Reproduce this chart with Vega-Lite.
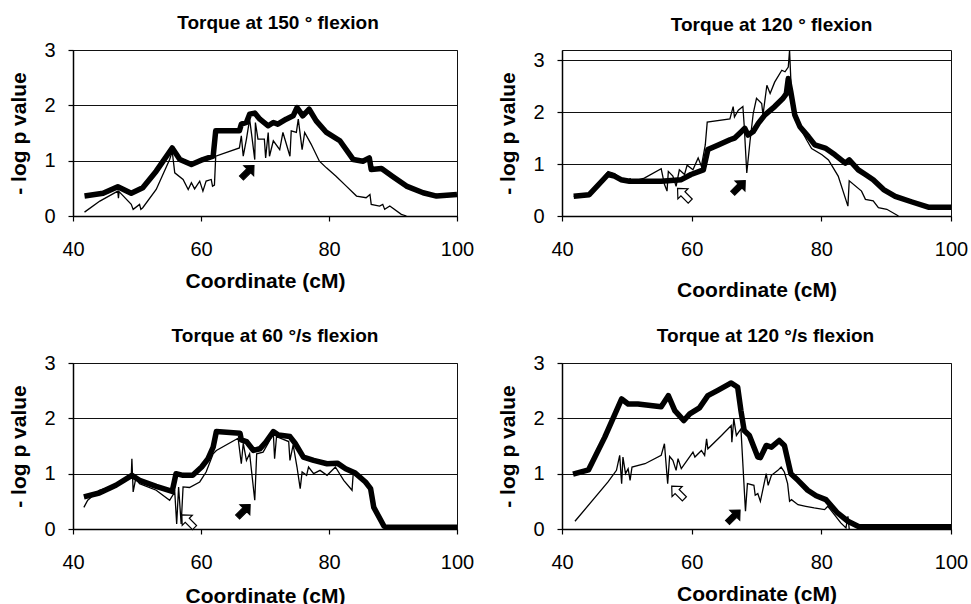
{
  "$schema": "https://vega.github.io/schema/vega-lite/v6.json",
  "background": "white",
  "padding": {"left": 8, "top": 13, "right": 5, "bottom": 5},
  "config": {
    "font": "Liberation Sans",
    "view": {"stroke": "#111", "strokeWidth": 1},
    "title": {"font": "Liberation Sans", "fontSize": 19, "fontWeight": "bold", "color": "black", "baseline": "bottom", "offset": 7},
    "axis": {"labelFont": "Liberation Sans", "labelFontSize": 20, "labelColor": "black", "titleFont": "Liberation Sans", "titleFontSize": 21, "titleFontWeight": "bold", "titleColor": "black", "domainColor": "black", "domainWidth": 1.5, "tickColor": "black", "tickSize": 5, "tickWidth": 1.2, "gridColor": "#111", "gridOpacity": 1, "gridWidth": 1, "labelFlush": false, "labelOverlap": false},
    "axisX": {"grid": false, "labelPadding": 18},
    "axisY": {"labelPadding": 13, "titlePadding": 14}
  },
  "datasets": {
    "p1": [
      {"s":"thick","x":41.8,"y":0.36},{"s":"thick","x":44.7,"y":0.41},{"s":"thick","x":47.0,"y":0.53},{"s":"thick","x":49.1,"y":0.41},{"s":"thick","x":50.9,"y":0.51},{"s":"thick","x":53.0,"y":0.81},{"s":"thick","x":55.5,"y":1.23},{"s":"thick","x":56.7,"y":1.02},{"s":"thick","x":58.5,"y":0.93},{"s":"thick","x":60.3,"y":1.02},{"s":"thick","x":61.9,"y":1.08},{"s":"thick","x":62.3,"y":1.54},{"s":"thick","x":66.0,"y":1.54},{"s":"thick","x":66.3,"y":1.66},{"s":"thick","x":67.1,"y":1.69},{"s":"thick","x":67.6,"y":1.84},{"s":"thick","x":68.4,"y":1.86},{"s":"thick","x":69.2,"y":1.75},{"s":"thick","x":70.5,"y":1.63},{"s":"thick","x":71.3,"y":1.69},{"s":"thick","x":72.0,"y":1.66},{"s":"thick","x":73.3,"y":1.75},{"s":"thick","x":74.4,"y":1.81},{"s":"thick","x":75.0,"y":1.96},{"s":"thick","x":75.9,"y":1.81},{"s":"thick","x":76.9,"y":1.93},{"s":"thick","x":78.0,"y":1.72},{"s":"thick","x":79.6,"y":1.51},{"s":"thick","x":81.7,"y":1.36},{"s":"thick","x":83.8,"y":1.02},{"s":"thick","x":85.3,"y":0.99},{"s":"thick","x":86.3,"y":1.05},{"s":"thick","x":86.6,"y":0.84},{"s":"thick","x":88.2,"y":0.86},{"s":"thick","x":90.0,"y":0.71},{"s":"thick","x":92.1,"y":0.54},{"s":"thick","x":94.7,"y":0.42},{"s":"thick","x":96.8,"y":0.36},{"s":"thick","x":100,"y":0.39},
      {"s":"thin","x":41.8,"y":0.07},{"s":"thin","x":44.2,"y":0.27},{"s":"thin","x":47.0,"y":0.45},{"s":"thin","x":47.1,"y":0.32},{"s":"thin","x":47.2,"y":0.44},{"s":"thin","x":49.1,"y":0.21},{"s":"thin","x":49.4,"y":0.12},{"s":"thin","x":50.4,"y":0.21},{"s":"thin","x":50.6,"y":0.12},{"s":"thin","x":50.9,"y":0.15},{"s":"thin","x":53.0,"y":0.48},{"s":"thin","x":55.1,"y":1.02},{"s":"thin","x":55.5,"y":1.17},{"s":"thin","x":55.9,"y":0.78},{"s":"thin","x":57.2,"y":0.66},{"s":"thin","x":58.0,"y":0.48},{"s":"thin","x":58.5,"y":0.6},{"s":"thin","x":59.0,"y":0.49},{"s":"thin","x":59.8,"y":0.63},{"s":"thin","x":60.3,"y":0.45},{"s":"thin","x":60.8,"y":0.63},{"s":"thin","x":61.6,"y":0.66},{"s":"thin","x":61.8,"y":0.54},{"s":"thin","x":62.1,"y":0.56},{"s":"thin","x":62.3,"y":1.08},{"s":"thin","x":66.0,"y":1.23},{"s":"thin","x":66.3,"y":1.45},{"s":"thin","x":66.6,"y":1.08},{"s":"thin","x":67.1,"y":1.39},{"s":"thin","x":67.6,"y":1.75},{"s":"thin","x":68.0,"y":1.39},{"s":"thin","x":68.4,"y":1.02},{"s":"thin","x":68.5,"y":1.69},{"s":"thin","x":68.9,"y":1.39},{"s":"thin","x":69.9,"y":1.39},{"s":"thin","x":70.1,"y":1.05},{"s":"thin","x":70.5,"y":1.51},{"s":"thin","x":70.7,"y":1.08},{"s":"thin","x":71.3,"y":1.36},{"s":"thin","x":72.3,"y":1.2},{"s":"thin","x":72.8,"y":1.51},{"s":"thin","x":73.9,"y":1.08},{"s":"thin","x":74.1,"y":1.54},{"s":"thin","x":74.9,"y":1.51},{"s":"thin","x":75.2,"y":1.75},{"s":"thin","x":75.8,"y":1.2},{"s":"thin","x":76.2,"y":1.51},{"s":"thin","x":77.2,"y":1.3},{"s":"thin","x":78.5,"y":0.99},{"s":"thin","x":79.6,"y":0.87},{"s":"thin","x":81.1,"y":0.72},{"s":"thin","x":82.7,"y":0.54},{"s":"thin","x":84.3,"y":0.36},{"s":"thin","x":85.8,"y":0.33},{"s":"thin","x":86.4,"y":0.39},{"s":"thin","x":86.6,"y":0.21},{"s":"thin","x":87.9,"y":0.18},{"s":"thin","x":88.4,"y":0.21},{"s":"thin","x":88.7,"y":0.12},{"s":"thin","x":89.5,"y":0.18},{"s":"thin","x":91.3,"y":0.03},{"s":"thin","x":92.1,"y":0},
      {"s":"filled","x":67.3,"y":0.8}
    ],
    "p2": [
      {"s":"thick","x":41.8,"y":0.38},{"s":"thick","x":44.2,"y":0.41},{"s":"thick","x":47.1,"y":0.8},{"s":"thick","x":48.1,"y":0.77},{"s":"thick","x":49.1,"y":0.7},{"s":"thick","x":50.4,"y":0.67},{"s":"thick","x":52.7,"y":0.67},{"s":"thick","x":55.3,"y":0.67},{"s":"thick","x":58.4,"y":0.7},{"s":"thick","x":59.9,"y":0.8},{"s":"thick","x":61.8,"y":0.89},{"s":"thick","x":62.5,"y":1.28},{"s":"thick","x":64.1,"y":1.37},{"s":"thick","x":65.9,"y":1.47},{"s":"thick","x":66.6,"y":1.5},{"s":"thick","x":67.7,"y":1.63},{"s":"thick","x":68.2,"y":1.69},{"s":"thick","x":68.7,"y":1.56},{"s":"thick","x":69.5,"y":1.63},{"s":"thick","x":70.3,"y":1.79},{"s":"thick","x":71.3,"y":1.95},{"s":"thick","x":72.8,"y":2.11},{"s":"thick","x":74.1,"y":2.27},{"s":"thick","x":74.6,"y":2.36},{"s":"thick","x":74.9,"y":2.65},{"s":"thick","x":75.3,"y":2.39},{"s":"thick","x":75.9,"y":1.95},{"s":"thick","x":76.7,"y":1.72},{"s":"thick","x":78.0,"y":1.53},{"s":"thick","x":79.0,"y":1.37},{"s":"thick","x":80.6,"y":1.31},{"s":"thick","x":82.1,"y":1.18},{"s":"thick","x":83.7,"y":1.02},{"s":"thick","x":84.3,"y":1.08},{"s":"thick","x":85.7,"y":0.89},{"s":"thick","x":86.8,"y":0.8},{"s":"thick","x":88.0,"y":0.7},{"s":"thick","x":89.6,"y":0.51},{"s":"thick","x":91.4,"y":0.38},{"s":"thick","x":94.0,"y":0.27},{"s":"thick","x":96.5,"y":0.17},{"s":"thick","x":100,"y":0.17},
      {"s":"thin","x":41.8,"y":0.38},{"s":"thin","x":44.2,"y":0.41},{"s":"thin","x":47.1,"y":0.86},{"s":"thin","x":48.1,"y":0.82},{"s":"thin","x":49.1,"y":0.72},{"s":"thin","x":50.4,"y":0.67},{"s":"thin","x":50.5,"y":0.73},{"s":"thin","x":50.6,"y":0.66},{"s":"thin","x":52.7,"y":0.73},{"s":"thin","x":55.3,"y":0.91},{"s":"thin","x":55.8,"y":0.61},{"s":"thin","x":56.2,"y":0.48},{"s":"thin","x":56.4,"y":0.86},{"s":"thin","x":57.1,"y":0.77},{"s":"thin","x":57.6,"y":0.57},{"s":"thin","x":58.1,"y":0.89},{"s":"thin","x":58.9,"y":0.8},{"s":"thin","x":59.3,"y":0.98},{"s":"thin","x":60.2,"y":0.89},{"s":"thin","x":61.0,"y":1.12},{"s":"thin","x":61.5,"y":0.96},{"s":"thin","x":62.1,"y":1.37},{"s":"thin","x":62.4,"y":1.81},{"s":"thin","x":65.9,"y":1.87},{"s":"thin","x":66.4,"y":2.11},{"s":"thin","x":66.6,"y":1.91},{"s":"thin","x":67.2,"y":2.04},{"s":"thin","x":67.9,"y":2.11},{"s":"thin","x":68.1,"y":1.75},{"s":"thin","x":68.5,"y":0.83},{"s":"thin","x":69.0,"y":1.44},{"s":"thin","x":69.5,"y":1.98},{"s":"thin","x":70.0,"y":2.27},{"s":"thin","x":70.8,"y":2.17},{"s":"thin","x":71.0,"y":1.95},{"s":"thin","x":71.6,"y":2.52},{"s":"thin","x":72.1,"y":2.36},{"s":"thin","x":72.8,"y":2.58},{"s":"thin","x":73.9,"y":2.81},{"s":"thin","x":74.4,"y":2.78},{"s":"thin","x":74.9,"y":2.87},{"s":"thin","x":75.1,"y":3.19},{"s":"thin","x":75.4,"y":2.33},{"s":"thin","x":75.9,"y":1.91},{"s":"thin","x":76.7,"y":1.7},{"s":"thin","x":77.8,"y":1.45},{"s":"thin","x":78.5,"y":1.3},{"s":"thin","x":80.1,"y":1.18},{"s":"thin","x":81.1,"y":1.08},{"s":"thin","x":82.6,"y":0.77},{"s":"thin","x":84.1,"y":0.19},{"s":"thin","x":84.3,"y":0.68},{"s":"thin","x":86.2,"y":0.48},{"s":"thin","x":86.8,"y":0.32},{"s":"thin","x":88.0,"y":0.29},{"s":"thin","x":88.8,"y":0.16},{"s":"thin","x":90.1,"y":0.13},{"s":"thin","x":91.9,"y":0},
      {"s":"open","x":58.8,"y":0.41},{"s":"filled","x":67.3,"y":0.56}
    ],
    "p3": [
      {"s":"thick","x":41.7,"y":0.58},{"s":"thick","x":44.1,"y":0.65},{"s":"thick","x":46.7,"y":0.79},{"s":"thick","x":49.2,"y":0.97},{"s":"thick","x":50.4,"y":0.88},{"s":"thick","x":53.0,"y":0.77},{"s":"thick","x":55.5,"y":0.68},{"s":"thick","x":56.1,"y":1.0},{"s":"thick","x":57.2,"y":0.97},{"s":"thick","x":58.7,"y":0.97},{"s":"thick","x":60.1,"y":1.12},{"s":"thick","x":61.1,"y":1.27},{"s":"thick","x":61.9,"y":1.48},{"s":"thick","x":62.4,"y":1.76},{"s":"thick","x":66.1,"y":1.73},{"s":"thick","x":66.3,"y":1.61},{"s":"thick","x":67.1,"y":1.58},{"s":"thick","x":68.2,"y":1.42},{"s":"thick","x":69.2,"y":1.45},{"s":"thick","x":70.0,"y":1.55},{"s":"thick","x":71.3,"y":1.76},{"s":"thick","x":72.1,"y":1.7},{"s":"thick","x":73.9,"y":1.67},{"s":"thick","x":74.7,"y":1.55},{"s":"thick","x":76.0,"y":1.3},{"s":"thick","x":77.6,"y":1.24},{"s":"thick","x":79.7,"y":1.18},{"s":"thick","x":81.3,"y":1.19},{"s":"thick","x":82.6,"y":1.09},{"s":"thick","x":84.1,"y":1.01},{"s":"thick","x":85.7,"y":0.85},{"s":"thick","x":86.5,"y":0.73},{"s":"thick","x":87.0,"y":0.39},{"s":"thick","x":88.6,"y":0.05},{"s":"thick","x":89.1,"y":0.03},{"s":"thick","x":100,"y":0.03},
      {"s":"thin","x":41.7,"y":0.39},{"s":"thin","x":42.3,"y":0.52},{"s":"thin","x":44.1,"y":0.7},{"s":"thin","x":46.7,"y":0.79},{"s":"thin","x":49.1,"y":0.94},{"s":"thin","x":49.2,"y":1.27},{"s":"thin","x":49.4,"y":0.67},{"s":"thin","x":49.8,"y":0.91},{"s":"thin","x":50.4,"y":0.82},{"s":"thin","x":53.0,"y":0.7},{"s":"thin","x":55.1,"y":0.52},{"s":"thin","x":55.9,"y":0.67},{"s":"thin","x":56.2,"y":0.09},{"s":"thin","x":56.5,"y":0.76},{"s":"thin","x":56.9,"y":0.09},{"s":"thin","x":57.2,"y":0.76},{"s":"thin","x":58.2,"y":0.75},{"s":"thin","x":59.8,"y":0.85},{"s":"thin","x":60.8,"y":1.03},{"s":"thin","x":61.9,"y":1.36},{"s":"thin","x":62.4,"y":1.42},{"s":"thin","x":65.8,"y":1.64},{"s":"thin","x":66.3,"y":1.18},{"s":"thin","x":66.6,"y":1.55},{"s":"thin","x":67.1,"y":1.24},{"s":"thin","x":67.6,"y":1.36},{"s":"thin","x":68.4,"y":0.52},{"s":"thin","x":68.7,"y":1.36},{"s":"thin","x":69.7,"y":1.39},{"s":"thin","x":70.5,"y":1.55},{"s":"thin","x":71.3,"y":1.73},{"s":"thin","x":71.5,"y":1.27},{"s":"thin","x":71.8,"y":1.67},{"s":"thin","x":73.7,"y":1.58},{"s":"thin","x":73.9,"y":1.24},{"s":"thin","x":74.4,"y":1.52},{"s":"thin","x":75.0,"y":1.12},{"s":"thin","x":75.5,"y":0.73},{"s":"thin","x":75.8,"y":1.03},{"s":"thin","x":76.5,"y":0.97},{"s":"thin","x":76.8,"y":1.12},{"s":"thin","x":77.6,"y":1.0},{"s":"thin","x":78.6,"y":1.06},{"s":"thin","x":79.7,"y":0.97},{"s":"thin","x":81.0,"y":1.12},{"s":"thin","x":82.3,"y":0.88},{"s":"thin","x":83.6,"y":0.7},{"s":"thin","x":83.8,"y":1.03},{"s":"thin","x":85.7,"y":0.85},{"s":"thin","x":86.5,"y":0.73},{"s":"thin","x":87.0,"y":0.39},{"s":"thin","x":88.6,"y":0.05},{"s":"thin","x":89.1,"y":0.03},{"s":"thin","x":100,"y":0.03},
      {"s":"open","x":58.0,"y":0.14},{"s":"filled","x":66.7,"y":0.33}
    ],
    "p4": [
      {"s":"thick","x":41.7,"y":0.99},{"s":"thick","x":44.1,"y":1.07},{"s":"thick","x":46.6,"y":1.66},{"s":"thick","x":49.2,"y":2.35},{"s":"thick","x":50.2,"y":2.26},{"s":"thick","x":51.7,"y":2.26},{"s":"thick","x":55.3,"y":2.21},{"s":"thick","x":56.4,"y":2.41},{"s":"thick","x":57.4,"y":2.14},{"s":"thick","x":58.8,"y":1.96},{"s":"thick","x":59.7,"y":2.08},{"s":"thick","x":61.2,"y":2.19},{"s":"thick","x":62.5,"y":2.41},{"s":"thick","x":64.1,"y":2.51},{"s":"thick","x":66.1,"y":2.64},{"s":"thick","x":67.1,"y":2.56},{"s":"thick","x":67.6,"y":2.14},{"s":"thick","x":68.1,"y":1.78},{"s":"thick","x":68.9,"y":1.69},{"s":"thick","x":70.2,"y":1.3},{"s":"thick","x":70.6,"y":1.29},{"s":"thick","x":71.5,"y":1.51},{"s":"thick","x":72.3,"y":1.48},{"s":"thick","x":73.5,"y":1.6},{"s":"thick","x":74.3,"y":1.51},{"s":"thick","x":75.3,"y":1.0},{"s":"thick","x":76.4,"y":0.88},{"s":"thick","x":77.9,"y":0.7},{"s":"thick","x":79.2,"y":0.6},{"s":"thick","x":80.7,"y":0.53},{"s":"thick","x":82.5,"y":0.29},{"s":"thick","x":84.1,"y":0.14},{"s":"thick","x":85.8,"y":0.04},{"s":"thick","x":100,"y":0.04},
      {"s":"thin","x":42.0,"y":0.14},{"s":"thin","x":47.1,"y":0.85},{"s":"thin","x":48.4,"y":1.06},{"s":"thin","x":48.9,"y":1.33},{"s":"thin","x":49.2,"y":0.82},{"s":"thin","x":49.4,"y":1.3},{"s":"thin","x":49.8,"y":1.0},{"s":"thin","x":50.2,"y":1.09},{"s":"thin","x":50.5,"y":0.88},{"s":"thin","x":50.8,"y":1.12},{"s":"thin","x":52.8,"y":1.18},{"s":"thin","x":55.3,"y":1.33},{"s":"thin","x":55.8,"y":1.54},{"s":"thin","x":56.3,"y":0.82},{"s":"thin","x":56.6,"y":1.31},{"s":"thin","x":57.1,"y":1.24},{"s":"thin","x":57.6,"y":1.06},{"s":"thin","x":57.9,"y":1.27},{"s":"thin","x":58.4,"y":1.09},{"s":"thin","x":60.2,"y":1.39},{"s":"thin","x":60.5,"y":1.3},{"s":"thin","x":61.5,"y":1.42},{"s":"thin","x":62.0,"y":1.33},{"s":"thin","x":62.3,"y":1.63},{"s":"thin","x":62.5,"y":1.45},{"s":"thin","x":64.6,"y":1.69},{"s":"thin","x":66.1,"y":1.87},{"s":"thin","x":66.2,"y":1.57},{"s":"thin","x":66.5,"y":1.99},{"s":"thin","x":66.9,"y":1.69},{"s":"thin","x":67.6,"y":1.81},{"s":"thin","x":68.3,"y":0.32},{"s":"thin","x":68.6,"y":0.82},{"s":"thin","x":69.6,"y":0.79},{"s":"thin","x":69.8,"y":0.61},{"s":"thin","x":70.2,"y":0.64},{"s":"thin","x":70.6,"y":0.5},{"s":"thin","x":71.5,"y":1.0},{"s":"thin","x":71.8,"y":0.79},{"s":"thin","x":72.3,"y":0.97},{"s":"thin","x":73.3,"y":1.06},{"s":"thin","x":73.8,"y":1.12},{"s":"thin","x":74.3,"y":1.03},{"s":"thin","x":74.8,"y":0.82},{"s":"thin","x":75.1,"y":0.5},{"s":"thin","x":75.4,"y":0.53},{"s":"thin","x":76.4,"y":0.44},{"s":"thin","x":77.6,"y":0.41},{"s":"thin","x":78.9,"y":0.38},{"s":"thin","x":80.5,"y":0.35},{"s":"thin","x":81.0,"y":0.41},{"s":"thin","x":81.8,"y":0.29},{"s":"thin","x":83.0,"y":0.11},{"s":"thin","x":83.8,"y":0.02},{"s":"thin","x":84.1,"y":0.23},{"s":"thin","x":84.3,"y":0},
      {"s":"open","x":57.9,"y":0.66},{"s":"filled","x":66.5,"y":0.23}
    ]
  },
  "columns": 2,
  "bounds": "flush",
  "align": "each",
  "spacing": {"row": 147, "column": 105},
  "concat": [
    {
      "width": 384, "height": 166,
      "title": {"text": "Torque at 150 ° flexion", "dx": 13},
      "data": {"name": "p1"},
      "encoding": {
        "x": {"field": "x", "type": "quantitative", "scale": {"domain": [40, 100], "nice": false}, "axis": {"values": [40, 60, 80, 100], "title": "Coordinate (cM)", "titlePadding": 11}},
        "y": {"field": "y", "type": "quantitative", "scale": {"domain": [0, 3], "nice": false}, "axis": {"values": [0, 1, 2, 3], "title": "- log p value"}}
      },
      "layer": [
        {"transform": [{"filter": "datum.s === 'thin'"}], "mark": {"type": "line", "color": "black", "strokeWidth": 1.3}},
        {"transform": [{"filter": "datum.s === 'thick'"}], "mark": {"type": "line", "color": "black", "strokeWidth": 5.5, "strokeJoin": "round"}},
        {"transform": [{"filter": "datum.s === 'filled'"}], "mark": {"type": "point", "shape": "M0,-1L0.8,-0.15L0.32,-0.15L0.32,1L-0.32,1L-0.32,-0.15L-0.8,-0.15Z", "filled": true, "fill": "black", "stroke": "black", "strokeWidth": 1, "size": 320, "angle": 45, "opacity": 1}},
        {"transform": [{"filter": "datum.s === 'open'"}], "mark": {"type": "point", "shape": "M0,-1L0.8,-0.15L0.32,-0.15L0.32,1L-0.32,1L-0.32,-0.15L-0.8,-0.15Z", "filled": true, "fill": "white", "stroke": "black", "strokeWidth": 1.2, "size": 320, "angle": -45, "opacity": 1}}
      ]
    },
    {
      "width": 389, "height": 166,
      "title": {"text": "Torque at 120 ° flexion", "dx": 15, "offset": 13},
      "data": {"name": "p2"},
      "encoding": {
        "x": {"field": "x", "type": "quantitative", "scale": {"domain": [40, 100], "nice": false}, "axis": {"values": [40, 60, 80, 100], "title": "Coordinate (cM)", "titlePadding": 20}},
        "y": {"field": "y", "type": "quantitative", "scale": {"domain": [0, 3.2], "nice": false}, "axis": {"values": [0, 1, 2, 3], "title": "- log p value"}}
      },
      "layer": [
        {"transform": [{"filter": "datum.s === 'thin'"}], "mark": {"type": "line", "color": "black", "strokeWidth": 1.3}},
        {"transform": [{"filter": "datum.s === 'thick'"}], "mark": {"type": "line", "color": "black", "strokeWidth": 5.5, "strokeJoin": "round"}},
        {"transform": [{"filter": "datum.s === 'filled'"}], "mark": {"type": "point", "shape": "M0,-1L0.8,-0.15L0.32,-0.15L0.32,1L-0.32,1L-0.32,-0.15L-0.8,-0.15Z", "filled": true, "fill": "black", "stroke": "black", "strokeWidth": 1, "size": 320, "angle": 45, "opacity": 1}},
        {"transform": [{"filter": "datum.s === 'open'"}], "mark": {"type": "point", "shape": "M0,-1L0.8,-0.15L0.32,-0.15L0.32,1L-0.32,1L-0.32,-0.15L-0.8,-0.15Z", "filled": true, "fill": "white", "stroke": "black", "strokeWidth": 1.2, "size": 320, "angle": -45, "opacity": 1}}
      ]
    },
    {
      "width": 384, "height": 166,
      "title": {"text": "Torque at 60 °/s flexion", "dx": 10},
      "data": {"name": "p3"},
      "encoding": {
        "x": {"field": "x", "type": "quantitative", "scale": {"domain": [40, 100], "nice": false}, "axis": {"values": [40, 60, 80, 100], "title": "Coordinate (cM)", "titlePadding": 13}},
        "y": {"field": "y", "type": "quantitative", "scale": {"domain": [0, 3], "nice": false}, "axis": {"values": [0, 1, 2, 3], "title": "- log p value"}}
      },
      "layer": [
        {"transform": [{"filter": "datum.s === 'thin'"}], "mark": {"type": "line", "color": "black", "strokeWidth": 1.3}},
        {"transform": [{"filter": "datum.s === 'thick'"}], "mark": {"type": "line", "color": "black", "strokeWidth": 5.5, "strokeJoin": "round"}},
        {"transform": [{"filter": "datum.s === 'filled'"}], "mark": {"type": "point", "shape": "M0,-1L0.8,-0.15L0.32,-0.15L0.32,1L-0.32,1L-0.32,-0.15L-0.8,-0.15Z", "filled": true, "fill": "black", "stroke": "black", "strokeWidth": 1, "size": 320, "angle": 45, "opacity": 1}},
        {"transform": [{"filter": "datum.s === 'open'"}], "mark": {"type": "point", "shape": "M0,-1L0.8,-0.15L0.32,-0.15L0.32,1L-0.32,1L-0.32,-0.15L-0.8,-0.15Z", "filled": true, "fill": "white", "stroke": "black", "strokeWidth": 1.2, "size": 320, "angle": -45, "opacity": 1}}
      ]
    },
    {
      "width": 389, "height": 166,
      "title": {"text": "Torque at 120 °/s flexion", "dx": 9},
      "data": {"name": "p4"},
      "encoding": {
        "x": {"field": "x", "type": "quantitative", "scale": {"domain": [40, 100], "nice": false}, "axis": {"values": [40, 60, 80, 100], "title": "Coordinate (cM)", "titlePadding": 11}},
        "y": {"field": "y", "type": "quantitative", "scale": {"domain": [0, 3], "nice": false}, "axis": {"values": [0, 1, 2, 3], "title": "- log p value"}}
      },
      "layer": [
        {"transform": [{"filter": "datum.s === 'thin'"}], "mark": {"type": "line", "color": "black", "strokeWidth": 1.3}},
        {"transform": [{"filter": "datum.s === 'thick'"}], "mark": {"type": "line", "color": "black", "strokeWidth": 5.5, "strokeJoin": "round"}},
        {"transform": [{"filter": "datum.s === 'filled'"}], "mark": {"type": "point", "shape": "M0,-1L0.8,-0.15L0.32,-0.15L0.32,1L-0.32,1L-0.32,-0.15L-0.8,-0.15Z", "filled": true, "fill": "black", "stroke": "black", "strokeWidth": 1, "size": 320, "angle": 45, "opacity": 1}},
        {"transform": [{"filter": "datum.s === 'open'"}], "mark": {"type": "point", "shape": "M0,-1L0.8,-0.15L0.32,-0.15L0.32,1L-0.32,1L-0.32,-0.15L-0.8,-0.15Z", "filled": true, "fill": "white", "stroke": "black", "strokeWidth": 1.2, "size": 320, "angle": -45, "opacity": 1}}
      ]
    }
  ]
}
